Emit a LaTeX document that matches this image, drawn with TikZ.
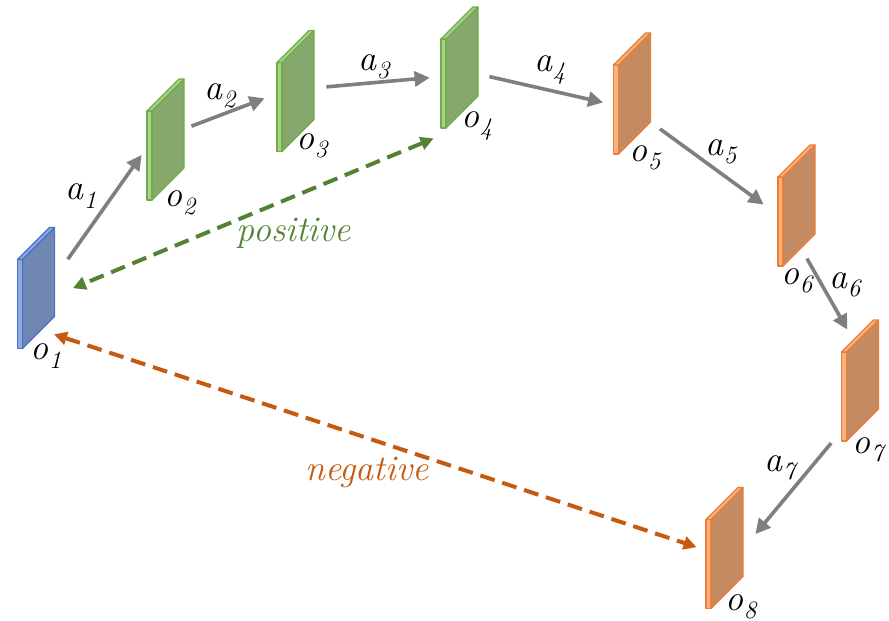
\documentclass[tikz,border=0pt]{standalone}
\usepackage{tikz}
\usetikzlibrary{arrows.meta}

\definecolor{bluface}{HTML}{7087B2}
\definecolor{bluside}{HTML}{8FAADC}
\definecolor{bluedge}{HTML}{4472C4}
\definecolor{grnface}{HTML}{86A86C}
\definecolor{grnside}{HTML}{A9D18E}
\definecolor{grnedge}{HTML}{70AD47}
\definecolor{orgface}{HTML}{C48B63}
\definecolor{orgside}{HTML}{F4B183}
\definecolor{orgedge}{HTML}{ED7D31}
\definecolor{actgray}{HTML}{7F7F7F}
\definecolor{posgreen}{HTML}{548235}
\definecolor{negorange}{HTML}{C55A11}

% one slab: a box node to connect to, then face, front strip and top strip
\newcommand{\slab}[4]{%
  \node[slabbox] (#1) at (#2,#3) {};
  \begin{scope}[shift={(#2-19.5,#3-61.5)}, draw=#4edge, line width=0.6pt, line join=round]
    \filldraw[fill=#4face] (6,33) -- (38,1) -- (38,90) -- (6,122) -- cycle;
    \filldraw[fill=#4side] (1,33) -- (6,33) -- (6,122) -- (1,122) -- cycle;
    \filldraw[fill=#4side] (1,33) -- (33,1) -- (38,1) -- (6,33) -- cycle;
  \end{scope}}
% label with an italic subscript
\newcommand{\lblsub}[2]{#1\raisebox{-0.55ex}{\fontsize{12.5}{13}\selectfont #2}}

\begin{document}
\begin{tikzpicture}[x=0.5pt, y=-0.5pt,
  slabbox/.style={minimum width=19.5pt, minimum height=61.5pt, inner sep=0pt},
  lbl/.style={inner sep=0pt, font=\fontsize{18}{20}\selectfont\itshape},
  act/.style={-{Triangle[length=7.5pt,width=7.5pt]}, line width=1.8pt, draw=actgray},
  pair/.style={{Triangle[length=6.5pt,width=6.5pt]}-{Triangle[length=6.5pt,width=6.5pt]},
    line width=2pt, dash pattern=on 7.5pt off 4pt}]
  \useasboundingbox (0,0) rectangle (889,621);
  % observations
  \slab{o1}{36}{288}{blu}
  \slab{o2}{165.5}{139.5}{grn}
  \slab{o3}{295.5}{91}{grn}
  \slab{o4}{459.5}{67.5}{grn}
  \slab{o5}{632}{93.5}{org}
  \slab{o6}{796.5}{205.5}{org}
  \slab{o7}{860}{380.5}{org}
  \slab{o8}{724.5}{548}{org}
  % observation labels
  \node[lbl] (lo1) at (46,356) {\lblsub{o}{1}};
  \node[lbl] (lo2) at (180,203) {\lblsub{o}{2}};
  \node[lbl] (lo3) at (312,146) {\lblsub{o}{3}};
  \node[lbl] (lo4) at (477,126) {\lblsub{o}{4}};
  \node[lbl] (lo5) at (645,158) {\lblsub{o}{5}};
  \node[lbl] (lo6) at (797,281) {\lblsub{o}{6}};
  \node[lbl] (lo7) at (868,450) {\lblsub{o}{7}};
  \node[lbl] (lo8) at (741,607) {\lblsub{o}{8}};
  % actions between consecutive observations
  \draw[act, shorten <=10.3pt, shorten >=3.5pt] (o1.31) -- (o2.206);
  \draw[act, shorten <=3.2pt, shorten >=5.9pt] (o2.29) -- (o3.189);
  \draw[act, shorten <=5.5pt, shorten >=5pt] (o3.9) -- (o4.205);
  \draw[act, shorten <=5.1pt, shorten >=4.6pt] (o4.-19) -- (o5.209);
  \draw[act, shorten <=5pt, shorten >=8pt] (o5.-56) -- (o6.203);
  \draw[act, shorten <=-5.1pt, shorten >=-6.3pt] (o6.-76) -- (o7.107);
  \draw[act, shorten <=7pt, shorten >=8.6pt] (o7.249) -- (o8.2);
  \node[lbl] (la1) at (81,196) {\lblsub{a}{1}};
  \node[lbl] (la2) at (220,96) {\lblsub{a}{2}};
  \node[lbl] (la3) at (374,67) {\lblsub{a}{3}};
  \node[lbl] (la4) at (550,70) {\lblsub{a}{4}};
  \node[lbl] (la5) at (721,152) {\lblsub{a}{5}};
  \node[lbl] (la6) at (845,285) {\lblsub{a}{6}};
  \node[lbl] (la7) at (780,468) {\lblsub{a}{7}};
  % positive and negative pairs
  \draw[pair, posgreen, shorten <=11.7pt, shorten >=9.2pt] (o4.266) -- (o1.-20);
  \draw[pair, negorange, shorten <=-1pt, shorten >=4.2pt] (o1.-67) -- (o8.185);
  \node[lbl, text=posgreen] (pos) at (294,233) {positive};
  \node[lbl, text=negorange] (neg) at (367,472) {negative};
\end{tikzpicture}
\end{document}
